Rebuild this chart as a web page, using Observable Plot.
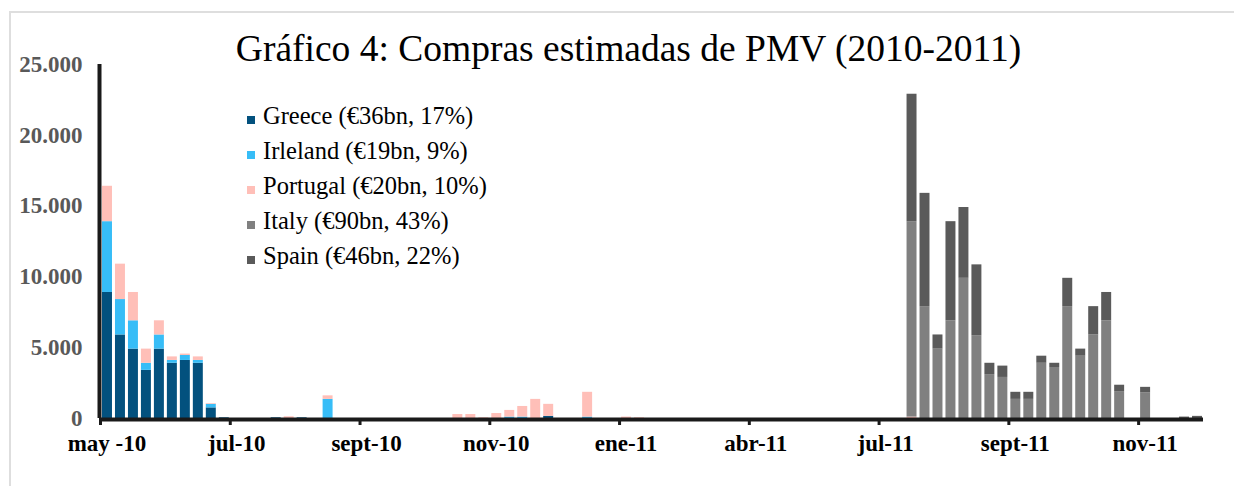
<!DOCTYPE html>
<html><head><meta charset="utf-8">
<script src="https://cdn.jsdelivr.net/npm/d3@7"></script>
<script src="https://cdn.jsdelivr.net/npm/@observablehq/plot@0.6"></script>
<style>
body{margin:0;background:#fff;}
#wrap{position:relative;width:1234px;height:486px;overflow:hidden;font-family:"Liberation Serif","Times New Roman",serif;color:#000;}
#frame{position:absolute;left:9px;top:11px;width:1260px;height:500px;border-left:2px solid #dedede;border-top:2px solid #dedede;}
#title{position:absolute;left:0;width:1257px;text-align:center;top:30px;font-size:37.5px;line-height:1;white-space:nowrap;}
.leg{position:absolute;left:247px;font-size:24.5px;line-height:1;white-space:nowrap;}
.sw{display:inline-block;width:8px;height:8px;margin-right:8px;}
#wrap svg{position:absolute;left:0;top:0;}
</style>
</head><body>
<div id="wrap">
  <div id="frame"></div>
  <div id="chart"></div>
  <div id="title">Gráfico 4: Compras estimadas de PMV (2010-2011)</div>
  <div id="legend"></div>
</div>
<script>
// weekly purchases, 85 weeks starting May 2010
const weekCount = 85;
const greece = [
  8900,5900,4900,3400,4900,3900,4100,3900,750,50,
  0,0,0,50,0,50,0,0,0,0,
  0,0,0,0,0,0,0,0,0,0,
  0,0,0,0,150,0,0,0,0,0,
  0,0,0,0,0,0,0,0,0,0,
  0,0,0,0,0,0,0,0,0,0,
  0,0,0,0,0,0,0,0,0,0,
  0,0,0,0,0,0,0,0,0,0,
  0,0,0,0,0
];
const ireland = [
  5000,2500,2000,500,1000,200,350,200,250,0,
  0,0,0,0,0,0,0,1350,0,0,
  0,0,0,0,0,0,0,0,0,0,
  0,100,100,0,0,0,0,100,0,0,
  0,0,0,0,0,0,0,0,0,0,
  0,0,0,0,0,0,0,0,0,0,
  0,0,0,0,0,0,0,0,0,0,
  0,0,0,0,0,0,0,0,0,0,
  0,0,0,0,0
];
const portugal = [
  2500,2500,2000,1000,1000,250,100,250,50,0,
  0,0,0,0,120,0,0,250,0,0,
  0,0,0,0,0,0,0,280,280,50,
  350,470,750,1350,850,0,0,1750,0,0,
  100,50,0,0,0,0,0,0,0,0,
  0,0,0,0,0,0,0,0,0,0,
  0,0,100,0,0,0,0,0,0,0,
  0,0,0,0,0,0,0,0,0,0,
  0,0,0,0,0
];
const italy = [
  0,0,0,0,0,0,0,0,0,0,
  0,0,0,0,0,0,0,0,0,0,
  0,0,0,0,0,0,0,0,0,0,
  0,0,0,0,0,0,0,0,0,0,
  0,0,0,0,0,0,0,0,0,0,
  0,0,0,0,0,0,0,0,0,0,
  0,0,13800,7900,4900,6900,9900,5850,3100,2900,
  1350,1350,3900,3600,7900,4400,5900,6900,1900,0,
  1800,0,0,0,0
];
const spain = [
  0,0,0,0,0,0,0,0,0,0,
  0,0,0,0,0,0,0,0,0,0,
  0,0,0,0,0,0,0,0,0,0,
  0,0,0,0,0,0,0,0,0,0,
  0,0,0,0,0,0,0,0,0,0,
  0,0,0,0,0,0,0,0,0,0,
  0,0,9000,8000,1000,7000,5000,5000,800,800,
  500,500,500,300,2000,500,2000,2000,450,0,
  400,0,0,100,150
];
const seriesNames = ["Greece", "Irleland", "Portugal", "Italy", "Spain"];
const seriesLabels = ["Greece (€36bn, 17%)", "Irleland (€19bn, 9%)", "Portugal (€20bn, 10%)", "Italy (€90bn, 43%)", "Spain (€46bn, 22%)"];
const seriesColors = ["#03517e", "#37bdf7", "#ffbfb8", "#808080", "#5a5a5a"];
const tickWeeks = [0, 10, 20, 30, 40, 50, 60, 70, 80];
const tickLabels = ["may -10", "jul-10", "sept-10", "nov-10", "ene-11", "abr-11", "jul-11", "sept-11", "nov-11"];
const yTicks = [0, 5000, 10000, 15000, 20000, 25000];

const seriesValues = [greece, ireland, portugal, italy, spain];
const rows = [];
seriesNames.forEach((name, s) => {
  seriesValues[s].forEach((v, i) => { if (v > 0) rows.push({i, series: name, value: v}); });
});
const labelByCenter = new Map(tickWeeks.map((t, k) => [t + 0.5, tickLabels[k]]));

const chart = Plot.plot({
  width: 1234, height: 486,
  marginLeft: 100, marginRight: 31, marginTop: 64, marginBottom: 68,
  style: {fontFamily: "'Liberation Serif', 'Times New Roman', serif", fontSize: "23px", fontWeight: "bold", background: "transparent", overflow: "visible", color: "#000"},
  x: {type: "linear", domain: [0, weekCount]},
  y: {domain: [0, 25000]},
  color: {domain: seriesNames, range: seriesColors},
  marks: [
    Plot.rectY(rows, Plot.stackY({x1: "i", x2: d => d.i + 1, y: "value", fill: "series", insetLeft: 2, insetRight: 1})),
    Plot.ruleX([0], {y1: 0, y2: 25000, stroke: "#1a1a1a", strokeWidth: 4, dx: -1}),
    Plot.ruleY([0], {x1: 0, x2: weekCount, stroke: "#1a1a1a", strokeWidth: 4, dy: 1}),
    Plot.axisY({ticks: yTicks, tickSize: 0, tickPadding: 18, label: null, color: "#595959",
      tickFormat: d => d3.format(",")(d).replace(/,/g, ".")}),
    Plot.axisX({ticks: tickWeeks, tickSize: 7, label: null, tickFormat: () => "", strokeWidth: 3, stroke: "#1a1a1a"}),
    Plot.axisX({ticks: tickWeeks.map(t => t + 0.5), tickSize: 0, tickPadding: 16, label: null,
      tickFormat: d => labelByCenter.get(d) ?? ""})
  ]
});
document.getElementById("chart").appendChild(chart);

const legend = document.getElementById("legend");
seriesLabels.forEach((lab, k) => {
  const row = document.createElement("div");
  row.className = "leg";
  row.style.top = (104 + k * 35) + "px";
  const sw = document.createElement("span");
  sw.className = "sw";
  sw.style.background = seriesColors[k];
  row.appendChild(sw);
  row.appendChild(document.createTextNode(lab));
  legend.appendChild(row);
});
</script>
</body></html>
